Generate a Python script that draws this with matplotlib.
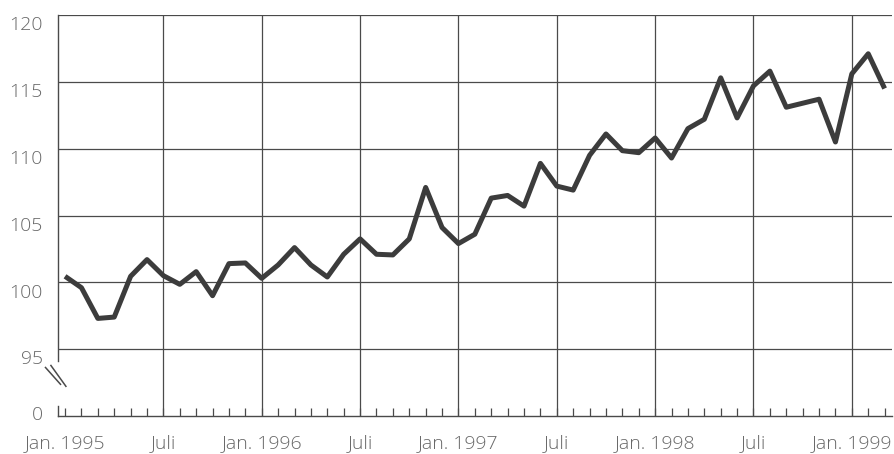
import matplotlib
matplotlib.use('Agg')
import matplotlib.pyplot as plt
import matplotlib.transforms as mtransforms
import numpy as np

# monthly index values, Jan 1995 .. Mar 1999
values = [100.45, 99.6, 97.3, 97.4, 100.45, 101.7, 100.5, 99.85, 100.8, 99.0,
          101.4, 101.45, 100.3, 101.3, 102.6, 101.3, 100.4, 102.1, 103.25, 102.1,
          102.05, 103.25, 107.1, 104.1, 102.9, 103.6, 106.3, 106.5, 105.7, 108.9,
          107.2, 106.9, 109.5, 111.1, 109.85, 109.7, 110.8, 109.3, 111.5, 112.2,
          115.3, 112.3, 114.7, 115.8, 113.1, 113.4, 113.7, 110.5, 115.6, 117.1,
          114.5]
x_tick_pos = [0, 6, 12, 18, 24, 30, 36, 42, 48]
x_tick_labels = ['Jan. 1995', 'Juli', 'Jan. 1996', 'Juli', 'Jan. 1997',
                 'Juli', 'Jan. 1998', 'Juli', 'Jan. 1999']
y_ticks = [90, 95, 100, 105, 110, 115, 120]
y_tick_labels = ['0', '95', '100', '105', '110', '115', '120']

grid_col = '#4a4a4a'
text_col = '#686868'

fig = plt.figure(figsize=(8.95, 4.54), dpi=100)
ax = fig.add_axes([58 / 895, 1 - 416 / 454, 834 / 895, 401 / 454])

months = np.arange(len(values))
ax.plot(months, values, color='#3c3c3c', lw=3.6, solid_joinstyle='round',
        solid_capstyle='butt', zorder=3)

ax.set_xlim(-0.43, 50.45)
ax.set_ylim(90, 120)

# grid (no vertical line at the first January, the axis sits there)
for yv in y_ticks[1:]:
    ax.axhline(yv, color=grid_col, lw=0.9, zorder=1)
for xv in x_tick_pos[1:]:
    ax.axvline(xv, color=grid_col, lw=0.9, zorder=1)

for s in ['top', 'right', 'left']:
    ax.spines[s].set_visible(False)
ax.spines['bottom'].set_color(grid_col)
ax.spines['bottom'].set_linewidth(1.0)

# broken left axis
ax.plot([-0.43, -0.43], [120, 94.1], color=grid_col, lw=1.0, clip_on=False)
ax.plot([-0.43, -0.43], [90, 90.75], color=grid_col, lw=1.0, clip_on=False)
ax.plot([-0.0150, 0.0030], [0.1210, 0.0790], color=grid_col, lw=1.1,
        transform=ax.transAxes, clip_on=False)
ax.plot([-0.0085, 0.0095], [0.1260, 0.0740], color=grid_col, lw=1.1,
        transform=ax.transAxes, clip_on=False)

# ticks
ax.xaxis.remove_overlapping_locs = False
ax.set_xticks(x_tick_pos)
ax.set_xticklabels(x_tick_labels, family='Open Sans', fontsize=14,
                   fontweight='light', color=text_col)
ax.set_xticks(months, minor=True)
ax.tick_params(axis='x', which='major', length=0, pad=13)
ax.tick_params(axis='x', which='minor', direction='in', length=5.5, width=0.9,
               color=grid_col)

ax.set_yticks(y_ticks)
ax.set_yticklabels(y_tick_labels, family='Open Sans', fontsize=14,
                   fontweight='light', color=text_col)
ax.tick_params(axis='y', length=0, pad=11)
for i, lab in enumerate(ax.get_yticklabels()):
    dy = 2 / 72 if i == 0 else -6 / 72
    lab.set_transform(lab.get_transform() +
                      mtransforms.ScaledTranslation(0, dy, fig.dpi_scale_trans))

fig.savefig('out.png', dpi=100)
